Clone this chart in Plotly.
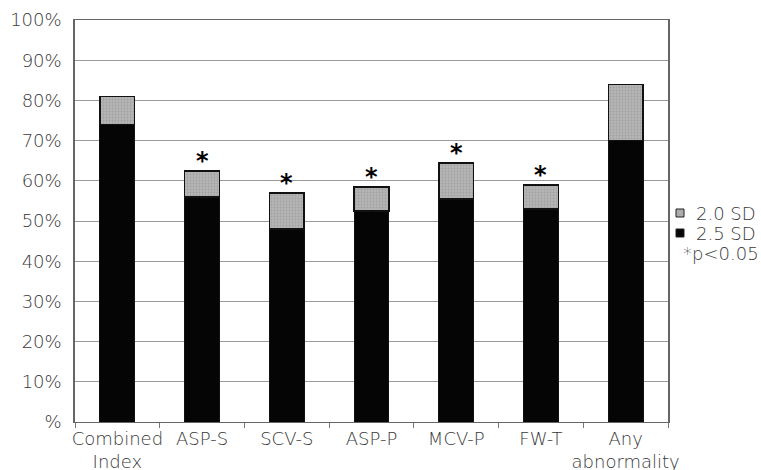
import plotly.graph_objects as go

categories = ["Combined<br>Index", "ASP-S", "SCV-S", "ASP-P", "MCV-P", "FW-T", "Any<br>abnormality"]
sd25 = [74, 56, 48, 52.5, 55.5, 53, 70]
total_sd20 = [81, 62.4, 57, 58.4, 64.4, 58.9, 84]
significant = [False, True, True, True, True, True, False]
ytick_vals = [0, 10, 20, 30, 40, 50, 60, 70, 80, 90, 100]
ytick_text = ["%", "10%", "20%", "30%", "40%", "50%", "60%", "70%", "80%", "90%", "100%"]
legend_labels = ["2.0 SD", "2.5 SD", "*p<0.05"]

sd20_extra = [t - b for t, b in zip(total_sd20, sd25)]

font_family = "DejaVu Sans"
txt_color = "#383838"
gray_pattern = dict(shape=".", fgcolor="#8c8c8c", bgcolor="#b5b5b5", size=3, solidity=0.3)

fig = go.Figure()
fig.add_trace(go.Bar(
    x=categories, y=sd25, name=legend_labels[1],
    marker=dict(color="#050505", line=dict(color="#111111", width=1)),
    width=0.41, showlegend=False,
))
fig.add_trace(go.Bar(
    x=categories, y=sd20_extra, name=legend_labels[0],
    marker=dict(color="#ababab", line=dict(color="#111111", width=1.5), pattern=gray_pattern),
    width=0.41, showlegend=False,
))

for c, t, s in zip(categories, total_sd20, significant):
    if s:
        fig.add_annotation(x=c, y=t, text="<b>*</b>", showarrow=False, yanchor="bottom",
                           yshift=-6, font=dict(size=24, color="#000000", family="DejaVu Sans"))

# legend built from annotations + small squares (paper coords)
plot_l, plot_r, plot_t, plot_b = 75, 668, 20, 422
def px_x(px):
    return (px - plot_l) / (plot_r - plot_l)
def px_y(py):
    return (plot_b - py) / (plot_b - plot_t)

rows_y = [213, 233, 253]
square_fill = ["#ababab", "#050505", None]
for lab, ry, sf in zip(legend_labels, rows_y, square_fill):
    if sf is not None:
        fig.add_shape(type="rect", xref="paper", yref="paper",
                      x0=px_x(676), x1=px_x(684), y0=px_y(ry + 4), y1=px_y(ry - 4),
                      fillcolor=sf, line=dict(color="#222222", width=1))
        x_text = 694
    else:
        x_text = 681
    fig.add_annotation(xref="paper", yref="paper", x=px_x(x_text), y=px_y(ry),
                       text=lab, showarrow=False, xanchor="left", yanchor="middle",
                       font=dict(size=18, color=txt_color, family=font_family, weight=200))

fig.update_layout(
    barmode="stack",
    width=761, height=470,
    margin=dict(l=plot_l, r=761 - plot_r, t=plot_t, b=470 - plot_b),
    paper_bgcolor="white", plot_bgcolor="white",
    font=dict(family=font_family, color=txt_color, size=18, weight=200),
    showlegend=False,
    xaxis=dict(showline=True, linecolor="#666666", linewidth=1, mirror=True,
               ticks="outside", tickson="boundaries", ticklen=5, tickcolor="#777777",
               tickangle=0, automargin=False,
               tickfont=dict(size=18, color=txt_color), showgrid=False),
    yaxis=dict(range=[0, 100], tickvals=ytick_vals, ticktext=ytick_text,
               showline=True, linecolor="#666666", linewidth=1.5, mirror=True,
               showgrid=True, gridcolor="#9a9a9a", gridwidth=1, automargin=False,
               ticks="", ticklabelstandoff=8,
               tickfont=dict(size=18, color=txt_color), zeroline=False),
)

fig.write_html("out.html", post_script="document.body.style.margin='0';",
               config={"displayModeBar": False})
